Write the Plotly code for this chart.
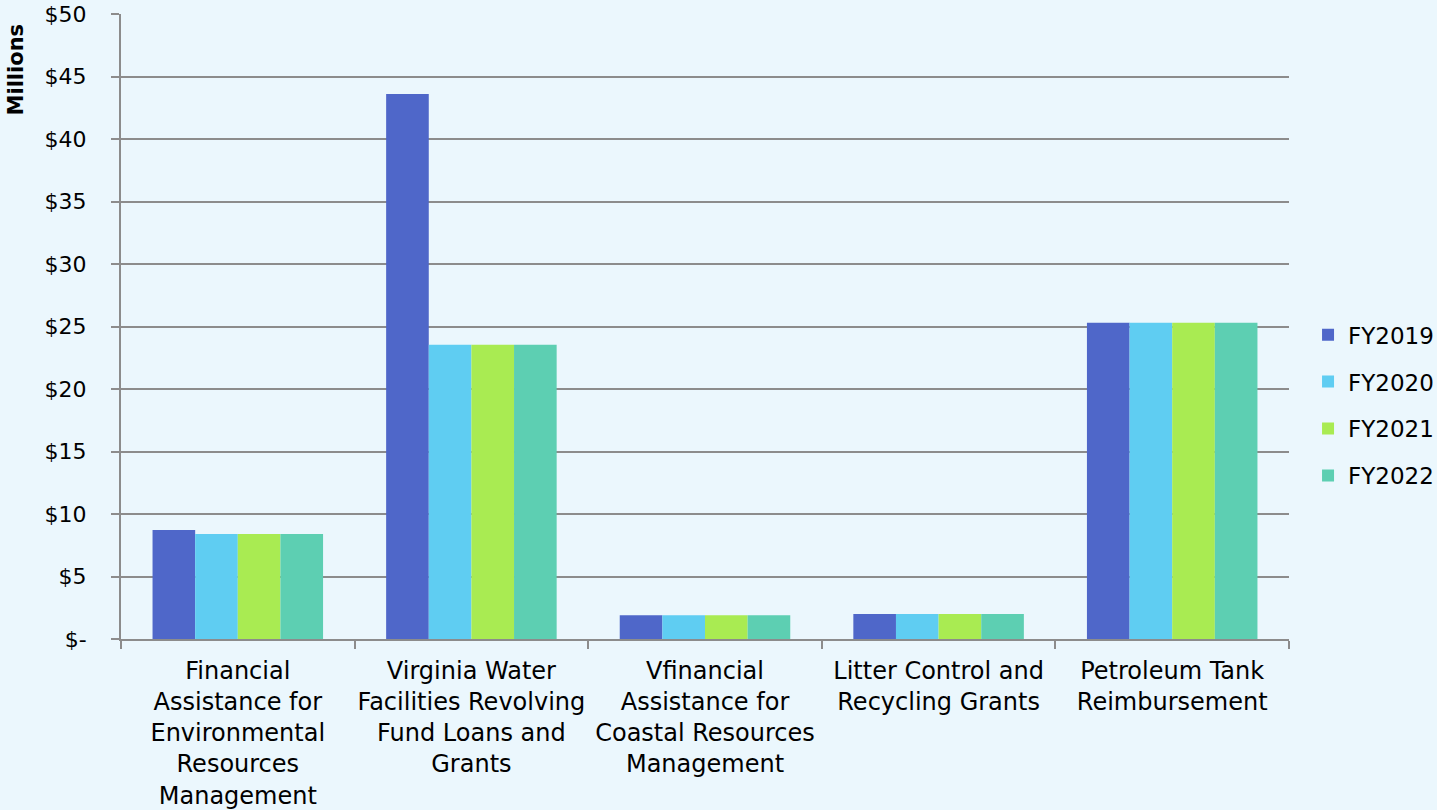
import plotly.graph_objects as go

categories = [
    "Financial<br>Assistance for<br>Environmental<br>Resources<br>Management",
    "Virginia Water<br>Facilities Revolving<br>Fund Loans and<br>Grants",
    "Vfinancial<br>Assistance for<br>Coastal Resources<br>Management",
    "Litter Control and<br>Recycling Grants",
    "Petroleum Tank<br>Reimbursement",
]
series_names = ["FY2019", "FY2020", "FY2021", "FY2022"]
fy2019 = [8.72, 43.6, 1.9, 2.0, 25.3]
fy2020 = [8.4, 23.55, 1.9, 2.0, 25.3]
fy2021 = [8.4, 23.55, 1.9, 2.0, 25.3]
fy2022 = [8.4, 23.55, 1.9, 2.0, 25.3]
tick_vals = [0, 5, 10, 15, 20, 25, 30, 35, 40, 45, 50]
tick_text = ["$-", "$5", "$10", "$15", "$20", "$25", "$30", "$35", "$40", "$45", "$50"]

colors = ["#4F67C9", "#5FCDF2", "#A9EB52", "#5DCFB2"]
bg = "#EBF7FD"
font_family = "DejaVu Sans"

fig = go.Figure()
for name, vals, c in zip(series_names, [fy2019, fy2020, fy2021, fy2022], colors):
    fig.add_trace(go.Bar(x=categories, y=vals, name=name, legendgroup=name,
                         marker=dict(color=c, line=dict(width=0))))

fig.update_layout(
    width=1437, height=810,
    paper_bgcolor=bg, plot_bgcolor=bg,
    barmode="group", bargap=0.27, bargroupgap=0,
    margin=dict(l=121, r=148, t=14, b=171, autoexpand=False),
    font=dict(family=font_family, size=23, color="#000000"),
    legend=dict(x=1.0163, y=0.374, xanchor="left", yanchor="middle",
                font=dict(size=23), tracegroupgap=14, itemwidth=30,
                bgcolor="rgba(0,0,0,0)"),
    xaxis=dict(showline=True, linecolor="#8C8C8C", linewidth=2,
               ticks="outside", tickson="boundaries", ticklen=8,
               tickcolor="#8C8C8C", tickwidth=2, showgrid=False,
               tickangle=0,
               tickfont=dict(size=24), ticklabelstandoff=9),
    yaxis=dict(range=[0, 50], tickvals=tick_vals, ticktext=tick_text,
               showgrid=True, gridcolor="#8C8C8C", gridwidth=2,
               showline=True, linecolor="#8C8C8C", linewidth=2,
               ticks="outside", ticklen=8, tickcolor="#8C8C8C", tickwidth=2,
               zeroline=False, tickfont=dict(size=22), ticklabelstandoff=20),
)
fig.add_annotation(text="<b>Millions</b>", textangle=-90, xref="paper", yref="paper",
                   x=-0.0895, y=0.912, xanchor="center", yanchor="middle",
                   showarrow=False, font=dict(size=21, family=font_family))

fig.write_html("out.html", config={"displayModeBar": False},
               post_script="document.body.style.margin='0';")
